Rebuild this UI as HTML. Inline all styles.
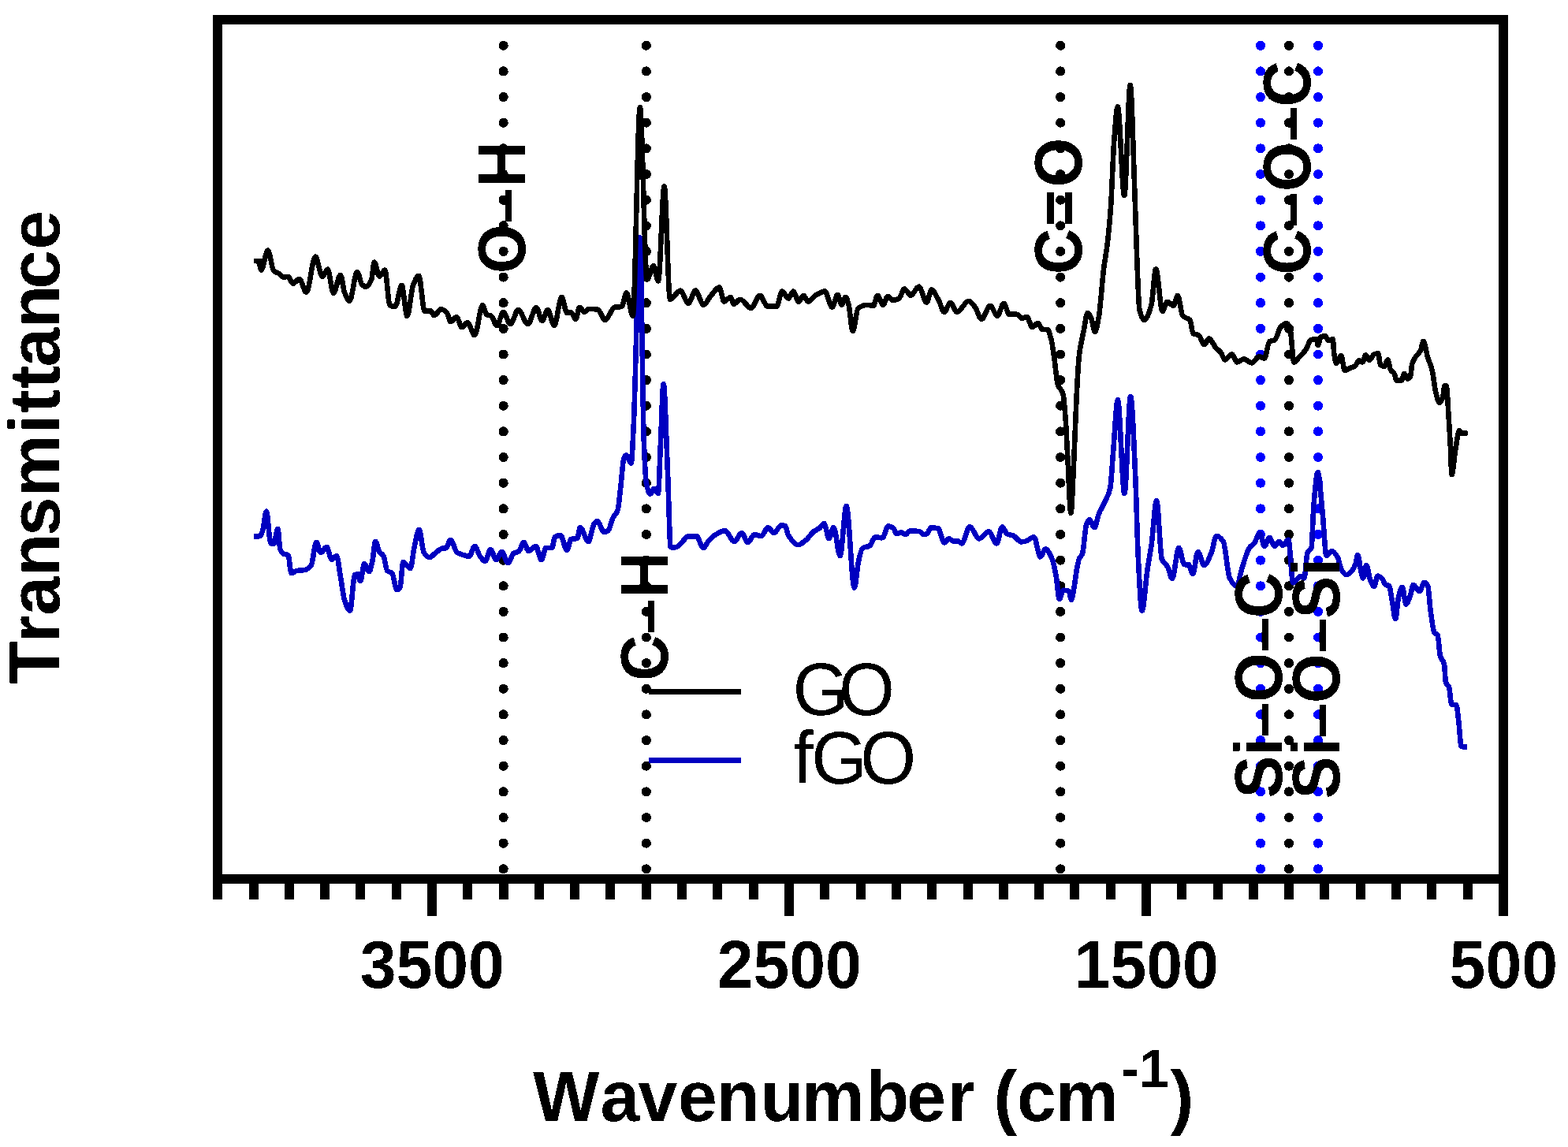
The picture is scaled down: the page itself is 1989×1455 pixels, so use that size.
<!DOCTYPE html>
<html lang="en"><head><meta charset="utf-8"><title>FTIR spectra of GO and fGO</title>
<style>
html,body{margin:0;padding:0;background:#fff;}
body{width:1989px;height:1455px;overflow:hidden;font-family:"Liberation Sans",Arial,sans-serif;}
svg{display:block;}
text{font-family:"Liberation Sans",Arial,sans-serif;fill:#000;}
.b{font-weight:bold;}
</style></head><body>
<svg width="1989" height="1455" viewBox="0 0 1989 1455">
<defs><filter id="bin" x="0" y="0" width="1989" height="1455" filterUnits="userSpaceOnUse" color-interpolation-filters="sRGB"><feComponentTransfer><feFuncA type="discrete" tableValues="0 1"/></feComponentTransfer></filter></defs>
<rect x="0" y="0" width="1989" height="1455" fill="#fff"/>
<g filter="url(#bin)">
<g id="vlines">
<path d="M638.6,57.8 V1102.4" stroke="#000" stroke-width="12.2" stroke-linecap="round" stroke-dasharray="0 32.64" fill="none"/>
<path d="M819.8,57.8 V1102.4" stroke="#000" stroke-width="12.2" stroke-linecap="round" stroke-dasharray="0 32.64" fill="none"/>
<path d="M1345.2,57.8 V1102.4" stroke="#000" stroke-width="12.2" stroke-linecap="round" stroke-dasharray="0 32.64" fill="none"/>
<path d="M1599.0,57.8 V1102.4" stroke="#0000ff" stroke-width="12.2" stroke-linecap="round" stroke-dasharray="0 32.64" fill="none"/>
<path d="M1635.0,57.8 V1102.4" stroke="#000" stroke-width="12.2" stroke-linecap="round" stroke-dasharray="0 32.64" fill="none"/>
<path d="M1672.0,57.8 V1102.4" stroke="#0000ff" stroke-width="12.2" stroke-linecap="round" stroke-dasharray="0 32.64" fill="none"/>
</g>
<path id="fgo" d="M322.0,680.4C324.7,680.2 327.5,680.3 330.2,679.8C331.2,679.6 332.2,675.9 333.2,672.8C334.8,667.9 336.3,648.6 337.9,648.6C339.7,648.6 341.5,688.1 343.3,688.9C344.6,689.5 346.0,689.9 347.3,689.9C349.0,689.9 350.7,670.8 352.4,670.8C353.4,670.8 354.4,694.7 355.4,697.0C357.1,700.8 358.7,702.4 360.4,703.0C362.1,703.6 363.8,703.3 365.5,704.0C366.8,704.5 368.2,727.2 369.5,727.2C371.8,727.2 374.2,724.5 376.5,724.1C379.9,723.5 383.2,723.7 386.6,723.1C389.3,722.6 392.0,720.6 394.7,717.1C396.9,714.2 399.1,687.9 401.3,687.9C403.1,687.9 404.9,701.0 406.7,701.0C409.3,701.0 411.8,693.9 414.4,693.9C416.5,693.9 418.7,710.0 420.8,710.0C422.8,710.0 424.9,705.0 426.9,705.0C428.6,705.0 430.2,721.9 431.9,731.2C433.6,740.7 435.3,756.4 437.0,761.4C439.3,768.2 441.7,774.5 444.0,774.5C446.0,774.5 448.0,730.1 450.0,729.2C451.3,728.6 452.7,728.2 454.0,728.2C455.0,728.2 456.1,737.2 457.1,737.2C458.8,737.2 460.4,715.1 462.1,715.1C464.1,715.1 466.2,725.2 468.2,725.2C469.5,725.2 470.9,718.5 472.2,713.0C473.5,707.5 474.9,686.9 476.2,686.9C477.9,686.9 479.6,697.6 481.3,700.0C483.0,702.4 484.6,702.4 486.3,705.0C488.0,707.6 489.6,722.6 491.3,724.1C493.3,726.0 495.4,725.4 497.4,727.2C499.4,729.0 501.4,748.3 503.4,748.3C504.7,748.3 506.1,747.1 507.4,745.3C508.8,743.4 510.1,713.1 511.5,713.1C514.5,713.1 517.5,721.1 520.5,721.1C522.2,721.1 523.9,701.3 525.6,693.9C527.6,685.1 529.6,671.8 531.6,671.8C533.6,671.8 535.7,698.0 537.7,701.0C540.0,704.4 542.4,707.0 544.7,707.0C547.1,707.0 549.4,703.7 551.8,702.0C554.5,700.1 557.1,696.7 559.8,696.0C561.8,695.5 563.9,695.6 565.9,695.0C567.8,694.4 569.6,684.9 571.5,684.9C574.3,684.9 577.2,699.2 580.0,701.0C582.7,702.7 585.3,703.1 588.0,704.0C590.4,704.8 592.7,706.0 595.1,706.0C597.4,706.0 599.8,692.9 602.1,692.9C604.5,692.9 606.8,702.9 609.2,706.0C611.2,708.6 613.2,712.1 615.2,712.1C617.6,712.1 619.9,697.0 622.3,697.0C624.6,697.0 627.0,710.0 629.3,710.0C631.7,710.0 634.0,700.0 636.4,700.0C639.1,700.0 641.7,714.1 644.4,714.1C646.8,714.1 649.1,703.6 651.5,702.0C653.8,700.4 656.2,700.7 658.5,699.0C660.4,697.6 662.3,687.9 664.2,687.9C666.3,687.9 668.5,699.0 670.6,699.0C673.6,699.0 676.7,692.9 679.7,692.9C682.0,692.9 684.4,710.0 686.7,710.0C688.7,710.0 690.7,694.9 692.7,694.9C695.1,694.9 697.6,695.2 700.0,695.2C701.3,695.2 702.7,681.9 704.0,681.1C706.4,679.8 708.7,679.1 711.1,679.1C713.8,679.1 716.4,698.2 719.1,698.2C720.8,698.2 722.5,684.5 724.2,684.1C726.9,683.4 729.5,683.8 732.2,683.1C733.4,682.8 734.7,669.0 735.9,669.0C739.4,669.0 742.8,687.2 746.3,687.2C748.7,687.2 751.0,668.4 753.4,665.0C754.7,663.1 756.1,661.0 757.4,661.0C760.4,661.0 763.5,675.1 766.5,675.1C768.2,675.1 769.8,674.2 771.5,673.0C773.5,671.6 775.5,661.1 777.5,657.0C779.5,652.8 781.6,652.8 783.6,646.9C784.7,643.6 785.9,630.0 787.0,620.7C788.5,608.2 790.1,582.9 791.6,580.4C792.6,578.7 793.7,577.4 794.7,577.4C796.7,577.4 798.7,587.5 800.7,587.5C801.7,587.5 802.7,559.8 803.7,540.1C806.4,487.0 809.1,301.3 811.8,301.3C813.5,301.3 815.1,518.5 816.8,560.3C817.8,585.4 818.8,607.5 819.8,612.6C821.5,621.3 823.2,626.7 824.9,626.7C826.6,626.7 828.2,619.7 829.9,619.7C831.6,619.7 833.2,625.7 834.9,625.7C835.9,625.7 837.0,581.7 838.0,560.3C839.2,535.4 840.4,487.0 841.6,487.0C843.4,487.0 845.2,558.4 847.0,600.0C848.2,628.5 849.5,694.2 850.7,694.2C852.8,694.2 855.0,694.2 857.1,694.2C859.1,694.2 861.1,691.8 863.1,690.2C866.5,687.6 869.8,680.1 873.2,680.1C876.6,680.1 879.9,680.1 883.3,680.1C886.3,680.1 889.3,695.2 892.3,695.2C894.7,695.2 897.0,687.7 899.4,685.2C902.8,681.7 906.1,678.9 909.5,677.1C912.8,675.3 916.2,673.1 919.5,673.1C923.5,673.1 927.6,687.2 931.6,687.2C934.6,687.2 937.7,676.1 940.7,676.1C943.4,676.1 946.0,688.2 948.7,688.2C951.4,688.2 954.1,678.1 956.8,678.1C959.8,678.1 962.9,680.1 965.9,680.1C968.6,680.1 971.2,669.0 973.9,669.0C976.6,669.0 979.3,676.1 982.0,676.1C985.0,676.1 988.0,666.0 991.0,666.0C992.7,666.0 994.3,666.4 996.0,667.0C997.4,667.5 998.7,676.9 1000.1,679.1C1004.1,685.7 1008.2,691.2 1012.2,691.2C1015.6,691.2 1018.9,687.8 1022.3,685.2C1025.6,682.6 1029.0,676.6 1032.3,674.1C1034.7,672.3 1037.0,671.7 1039.4,670.0C1041.4,668.5 1043.4,664.0 1045.4,664.0C1047.4,664.0 1049.5,683.1 1051.5,683.1C1053.5,683.1 1055.5,669.0 1057.5,669.0C1060.2,669.0 1062.9,705.3 1065.6,705.3C1068.3,705.3 1070.9,641.9 1073.6,641.9C1077.0,641.9 1080.3,745.6 1083.7,745.6C1085.5,745.6 1087.3,719.3 1089.1,711.6C1090.8,704.5 1092.4,696.5 1094.1,695.4C1097.1,693.4 1100.2,694.1 1103.2,692.4C1105.5,691.1 1107.9,681.3 1110.2,681.3C1113.2,681.3 1116.3,682.3 1119.3,682.3C1121.8,682.3 1124.2,667.2 1126.7,667.2C1128.9,667.2 1131.2,668.5 1133.4,670.2C1134.7,671.2 1136.1,677.3 1137.4,677.3C1139.4,677.3 1141.4,675.3 1143.4,675.3C1145.1,675.3 1146.8,678.3 1148.5,678.3C1150.5,678.3 1152.5,673.3 1154.5,673.3C1158.5,673.3 1162.6,673.6 1166.6,674.3C1168.3,674.6 1169.9,678.3 1171.6,678.3C1173.3,678.3 1175.0,677.4 1176.7,676.3C1178.0,675.4 1179.4,669.3 1180.7,669.3C1183.7,669.3 1186.8,669.7 1189.8,670.3C1192.5,670.9 1195.1,688.4 1197.8,688.4C1199.8,688.4 1201.9,683.4 1203.9,683.4C1205.6,683.4 1207.2,686.4 1208.9,686.4C1210.9,686.4 1212.9,686.4 1214.9,686.4C1216.6,686.4 1218.3,689.4 1220.0,689.4C1223.3,689.4 1226.7,668.2 1230.0,668.2C1234.0,668.2 1238.1,683.4 1242.1,683.4C1246.1,683.4 1250.2,674.3 1254.2,674.3C1257.6,674.3 1260.9,689.4 1264.3,689.4C1266.6,689.4 1269.0,668.2 1271.3,668.2C1273.3,668.2 1275.4,676.4 1277.4,677.3C1280.1,678.5 1282.7,678.3 1285.4,679.3C1288.8,680.6 1292.1,687.4 1295.5,687.4C1297.5,687.4 1299.5,686.9 1301.5,686.4C1304.9,685.6 1308.2,681.3 1311.6,681.3C1314.3,681.3 1317.0,706.5 1319.7,706.5C1321.8,706.5 1324.0,696.4 1326.1,696.4C1329.0,696.4 1331.9,702.7 1334.8,709.5C1336.5,713.4 1338.1,722.5 1339.8,731.7C1341.1,739.0 1342.5,759.9 1343.8,759.9C1345.5,759.9 1347.2,748.8 1348.9,748.8C1351.2,748.8 1353.6,749.1 1355.9,749.8C1356.9,750.1 1358.0,760.9 1359.0,760.9C1360.0,760.9 1361.0,753.0 1362.0,747.8C1363.3,740.9 1364.7,728.5 1366.0,721.6C1367.0,716.4 1368.0,710.8 1369.0,708.5C1370.3,705.5 1371.7,705.7 1373.0,702.5C1374.7,698.4 1376.4,669.3 1378.1,665.2C1379.4,662.0 1380.8,659.2 1382.1,659.2C1384.1,659.2 1386.2,669.3 1388.2,669.3C1390.2,669.3 1392.2,656.0 1394.2,651.1C1396.9,644.5 1399.6,641.2 1402.3,635.0C1404.3,630.4 1406.3,628.1 1408.3,618.9C1409.6,612.8 1411.0,586.4 1412.3,570.6C1414.1,548.9 1416.0,507.0 1417.8,507.0C1420.7,507.0 1423.5,626.0 1426.4,626.0C1429.0,626.0 1431.5,503.0 1434.1,503.0C1436.2,503.0 1438.4,563.3 1440.5,610.8C1441.5,633.0 1442.5,679.7 1443.5,700.0C1445.2,734.5 1446.9,775.0 1448.6,775.0C1450.9,775.0 1453.3,737.2 1455.6,721.6C1457.3,710.4 1458.9,703.2 1460.6,691.4C1462.8,676.1 1464.9,635.0 1467.1,635.0C1469.3,635.0 1471.6,704.2 1473.8,709.5C1476.3,715.3 1478.7,714.7 1481.2,719.1C1483.1,722.5 1485.0,734.2 1486.9,734.2C1489.7,734.2 1492.5,694.9 1495.3,694.9C1497.7,694.9 1500.0,716.1 1502.4,716.1C1504.1,716.1 1505.7,716.1 1507.4,716.1C1509.3,716.1 1511.1,728.2 1513.0,728.2C1515.2,728.2 1517.3,700.0 1519.5,700.0C1522.2,700.0 1524.8,717.1 1527.5,717.1C1530.5,717.1 1533.6,708.1 1536.6,701.0C1538.8,695.9 1540.9,679.8 1543.1,679.8C1546.0,679.8 1548.8,682.7 1551.7,686.9C1554.4,690.8 1557.1,728.1 1559.8,733.2C1562.8,738.9 1565.8,743.3 1568.8,743.3C1571.2,743.3 1573.5,726.2 1575.9,719.1C1578.9,710.0 1581.9,699.1 1584.9,694.9C1586.9,692.1 1589.0,691.4 1591.0,688.9C1593.3,686.0 1595.7,676.8 1598.0,676.8C1600.0,676.8 1602.1,692.9 1604.1,692.9C1606.1,692.9 1608.1,681.9 1610.1,681.9C1612.5,681.9 1614.8,692.9 1617.2,692.9C1618.9,692.9 1620.5,686.9 1622.2,686.9C1623.9,686.9 1625.5,691.9 1627.2,691.9C1629.6,691.9 1631.9,684.9 1634.3,684.9C1636.3,684.9 1638.3,739.3 1640.3,739.3C1643.3,739.3 1646.4,731.2 1649.4,731.2C1651.1,731.2 1652.7,733.2 1654.4,733.2C1655.8,733.2 1657.1,704.0 1658.5,701.0C1660.2,697.4 1661.8,699.0 1663.5,694.9C1664.5,692.4 1665.5,652.2 1666.5,640.6C1668.2,620.8 1669.9,599.0 1671.6,599.0C1673.6,599.0 1675.6,631.3 1677.6,650.6C1679.3,666.7 1680.9,705.0 1682.6,705.0C1685.0,705.0 1687.3,699.0 1689.7,699.0C1692.0,699.0 1694.4,703.0 1696.7,707.0C1698.4,709.9 1700.1,720.4 1701.8,723.1C1703.8,726.2 1705.8,729.2 1707.8,729.2C1710.4,729.2 1712.9,726.3 1715.5,723.3C1716.9,721.7 1718.2,718.8 1719.6,715.0C1720.5,712.5 1721.4,703.7 1722.3,703.7C1723.5,703.7 1724.6,716.0 1725.8,721.2C1726.8,725.8 1727.9,733.6 1728.9,733.6C1730.4,733.6 1731.9,717.1 1733.4,717.1C1735.0,717.1 1736.5,732.0 1738.1,735.7C1739.7,739.5 1741.3,743.9 1742.9,743.9C1744.5,743.9 1746.2,730.5 1747.8,730.5C1749.7,730.5 1751.7,732.6 1753.6,734.6C1755.0,736.0 1756.3,741.3 1757.7,741.9C1759.1,742.5 1760.5,742.3 1761.9,742.9C1763.3,743.5 1764.6,755.5 1766.0,762.5C1767.4,769.5 1768.7,785.2 1770.1,785.2C1771.5,785.2 1772.8,761.4 1774.2,756.3C1775.7,750.6 1777.3,744.9 1778.8,744.9C1780.4,744.9 1781.9,766.6 1783.5,766.6C1785.2,766.6 1787.0,760.7 1788.7,756.3C1790.1,752.8 1791.4,741.9 1792.8,741.9C1795.4,741.9 1798.0,750.1 1800.6,750.1C1802.7,750.1 1804.7,738.8 1806.8,738.8C1808.3,738.8 1809.8,740.7 1811.3,743.9C1812.3,746.1 1813.4,765.3 1814.4,772.8C1816.1,785.4 1817.9,800.5 1819.6,802.7C1821.0,804.5 1822.3,803.8 1823.7,805.8C1824.7,807.3 1825.8,827.7 1826.8,831.5C1828.5,837.8 1830.3,835.8 1832.0,842.9C1832.7,845.6 1833.3,863.6 1834.0,865.6C1835.4,869.6 1836.7,868.3 1838.1,871.8C1839.1,874.4 1840.2,893.0 1841.2,893.4C1843.3,894.1 1845.3,893.7 1847.4,894.4C1848.4,894.8 1849.5,908.5 1850.5,917.1C1851.5,925.7 1852.6,946.8 1853.6,947.0C1856.1,947.5 1858.5,947.4 1861.0,947.6" fill="none" stroke="#0000c0" stroke-width="6.6" stroke-linejoin="round" stroke-linecap="butt"/>
<path id="go" d="M322.0,331.0C323.8,331.0 325.7,331.0 327.5,331.0C328.8,331.0 330.2,342.6 331.5,342.6C334.2,342.6 337.0,317.5 339.7,317.5C342.2,317.5 344.8,341.6 347.3,343.7C349.3,345.4 351.4,345.5 353.4,346.7C355.7,348.1 358.1,351.7 360.4,351.7C362.1,351.7 363.8,350.7 365.5,350.7C367.5,350.7 369.5,359.8 371.5,359.8C374.2,359.8 376.9,353.7 379.6,353.7C382.6,353.7 385.6,370.8 388.6,370.8C392.4,370.8 396.3,325.5 400.1,325.5C403.0,325.5 405.9,350.7 408.8,350.7C411.1,350.7 413.5,341.6 415.8,341.6C418.2,341.6 420.5,371.9 422.9,371.9C425.9,371.9 428.9,348.7 431.9,348.7C433.6,348.7 435.3,366.5 437.0,370.8C439.1,376.2 441.3,381.9 443.4,381.9C446.6,381.9 449.9,344.7 453.1,344.7C455.1,344.7 457.1,358.9 459.1,360.8C460.8,362.4 462.4,363.8 464.1,363.8C466.5,363.8 468.8,360.1 471.2,354.7C472.4,352.0 473.6,332.6 474.8,332.6C477.0,332.6 479.1,350.7 481.3,350.7C483.6,350.7 486.0,342.6 488.3,342.6C490.3,342.6 492.4,385.9 494.4,387.0C496.7,388.3 499.1,389.0 501.4,389.0C504.1,389.0 506.8,361.8 509.5,361.8C511.8,361.8 514.2,401.0 516.5,401.0C519.0,401.0 521.5,368.4 524.0,362.0C526.4,355.8 528.8,349.7 531.2,349.7C533.7,349.7 536.2,395.0 538.7,395.0C541.0,395.0 543.4,394.0 545.7,394.0C547.4,394.0 549.1,400.0 550.8,400.0C553.8,400.0 556.8,392.0 559.8,392.0C562.2,392.0 564.5,394.4 566.9,397.0C568.6,398.8 570.2,408.1 571.9,408.1C574.3,408.1 576.6,402.0 579.0,402.0C581.3,402.0 583.7,415.2 586.0,415.2C588.3,415.2 590.7,409.1 593.0,409.1C596.0,409.1 599.1,425.2 602.1,425.2C605.5,425.2 608.8,387.0 612.2,387.0C613.9,387.0 615.5,398.0 617.2,399.0C619.2,400.2 621.3,399.9 623.3,401.0C625.6,402.3 628.0,413.1 630.3,413.1C633.0,413.1 635.7,396.0 638.4,396.0C641.4,396.0 644.4,411.1 647.4,411.1C650.8,411.1 654.1,393.0 657.5,393.0C661.5,393.0 665.6,411.1 669.6,411.1C673.2,411.1 676.7,390.0 680.3,390.0C682.8,390.0 685.2,407.0 687.7,407.0C690.1,407.0 692.4,393.0 694.8,393.0C697.5,393.0 700.3,413.0 703.0,413.0C706.2,413.0 709.3,376.7 712.5,376.7C714.7,376.7 716.9,396.8 719.1,396.8C720.8,396.8 722.5,395.8 724.2,395.8C726.2,395.8 728.2,404.9 730.2,404.9C731.9,404.9 733.5,389.8 735.2,389.8C737.2,389.8 739.3,395.8 741.3,395.8C743.3,395.8 745.3,391.8 747.3,391.8C751.0,391.8 754.7,392.2 758.4,392.8C761.4,393.3 764.5,405.9 767.5,405.9C771.5,405.9 775.6,390.6 779.6,389.8C782.6,389.2 785.6,389.5 788.6,388.8C790.6,388.3 792.7,371.6 794.7,371.6C797.4,371.6 800.0,400.8 802.7,400.8C805.7,400.8 808.8,136.0 811.8,136.0C814.8,136.0 817.8,354.5 820.8,354.5C823.5,354.5 826.2,337.4 828.9,337.4C830.9,337.4 833.0,356.5 835.0,356.5C837.5,356.5 840.1,236.5 842.6,236.5C845.1,236.5 847.5,379.7 850.0,379.7C854.4,379.7 858.7,368.6 863.1,368.6C866.5,368.6 869.8,384.7 873.2,384.7C876.2,384.7 879.3,368.6 882.3,368.6C885.6,368.6 889.0,386.7 892.3,386.7C895.3,386.7 898.4,379.0 901.4,375.7C905.1,371.6 908.8,364.6 912.5,364.6C914.5,364.6 916.5,382.7 918.5,382.7C921.2,382.7 923.9,377.0 926.6,377.0C927.9,377.0 929.3,385.7 930.6,385.7C933.3,385.7 936.0,379.7 938.7,379.7C943.4,379.7 948.1,390.8 952.8,390.8C956.5,390.8 960.1,374.7 963.8,374.7C967.2,374.7 970.5,388.8 973.9,388.8C977.6,388.8 981.3,388.8 985.0,388.8C987.3,388.8 989.7,369.6 992.0,369.6C994.7,369.6 997.4,378.7 1000.1,378.7C1002.1,378.7 1004.1,369.6 1006.1,369.6C1008.5,369.6 1010.8,382.7 1013.2,382.7C1015.2,382.7 1017.2,374.7 1019.2,374.7C1021.2,374.7 1023.3,382.7 1025.3,382.7C1028.3,382.7 1031.3,376.4 1034.3,374.7C1038.3,372.4 1042.4,369.6 1046.4,369.6C1049.4,369.6 1052.5,389.8 1055.5,389.8C1057.8,389.8 1060.2,373.7 1062.5,373.7C1064.2,373.7 1065.9,386.7 1067.6,386.7C1069.3,386.7 1070.9,376.7 1072.6,376.7C1073.9,376.7 1075.2,382.0 1076.5,386.7C1078.2,392.9 1080.0,420.0 1081.7,420.0C1084.0,420.0 1086.4,392.5 1088.7,390.8C1092.5,388.1 1096.2,386.7 1100.0,386.7C1102.7,386.7 1105.3,387.7 1108.0,387.7C1109.7,387.7 1111.4,374.7 1113.1,374.7C1115.4,374.7 1117.8,386.7 1120.1,386.7C1122.1,386.7 1124.2,375.7 1126.2,375.7C1128.2,375.7 1130.2,380.7 1132.2,380.7C1134.9,380.7 1137.6,379.9 1140.3,378.7C1142.6,377.7 1145.0,366.6 1147.3,366.6C1150.0,366.6 1152.7,374.7 1155.4,374.7C1158.8,374.7 1162.1,363.6 1165.5,363.6C1168.8,363.6 1172.2,383.7 1175.5,383.7C1177.5,383.7 1179.6,367.6 1181.6,367.6C1184.6,367.6 1187.6,375.5 1190.6,380.7C1193.0,384.8 1195.3,395.8 1197.7,395.8C1200.4,395.8 1203.0,383.7 1205.7,383.7C1208.4,383.7 1211.1,395.8 1213.8,395.8C1218.8,395.8 1223.9,381.7 1228.9,381.7C1231.6,381.7 1234.3,386.3 1237.0,389.8C1239.7,393.3 1242.3,404.9 1245.0,404.9C1248.7,404.9 1252.4,387.8 1256.1,387.8C1259.1,387.8 1262.2,400.8 1265.2,400.8C1267.9,400.8 1270.5,384.7 1273.2,384.7C1275.6,384.7 1277.9,398.8 1280.3,398.8C1283.6,398.8 1287.0,398.8 1290.3,398.8C1292.3,398.8 1294.4,403.9 1296.4,403.9C1298.4,403.9 1300.4,401.9 1302.4,401.9C1304.8,401.9 1307.1,414.9 1309.5,414.9C1311.8,414.9 1314.2,409.9 1316.5,409.9C1318.5,409.9 1320.6,418.0 1322.6,418.0C1324.6,418.0 1326.6,418.0 1328.6,418.0C1330.3,418.0 1331.9,424.8 1333.6,431.0C1335.0,436.1 1336.3,447.7 1337.7,457.2C1339.0,466.4 1340.4,483.3 1341.7,487.5C1344.0,494.6 1346.2,492.3 1348.5,500.0C1349.5,503.5 1350.6,517.6 1351.6,531.0C1352.5,542.3 1353.3,562.6 1354.2,578.0C1355.6,602.8 1357.0,650.8 1358.4,650.8C1359.6,650.8 1360.8,613.8 1362.0,590.0C1363.2,565.5 1364.5,524.2 1365.7,501.0C1366.8,480.9 1367.8,460.0 1368.9,451.0C1370.8,435.2 1372.6,429.8 1374.5,420.5C1376.2,412.0 1377.9,396.8 1379.6,396.8C1381.1,396.8 1382.5,400.0 1384.0,402.9C1385.7,406.2 1387.3,421.0 1389.0,421.0C1390.7,421.0 1392.3,410.2 1394.0,400.8C1396.0,389.3 1398.1,356.5 1400.1,340.4C1401.6,328.8 1403.0,323.1 1404.5,311.0C1406.0,298.4 1407.6,283.0 1409.1,261.3C1410.4,242.4 1411.8,198.3 1413.1,180.7C1414.7,160.1 1416.2,135.4 1417.8,135.4C1420.6,135.4 1423.4,248.2 1426.2,248.2C1428.7,248.2 1431.2,107.8 1433.7,107.8C1435.6,107.8 1437.4,191.3 1439.3,241.1C1440.3,267.8 1441.3,305.9 1442.3,330.0C1443.3,354.9 1444.4,388.4 1445.4,392.8C1447.4,401.5 1449.5,405.9 1451.5,405.9C1454.5,405.9 1457.5,397.3 1460.5,386.7C1462.4,380.0 1464.3,341.2 1466.2,341.2C1469.0,341.2 1471.8,394.8 1474.6,394.8C1476.6,394.8 1478.7,382.7 1480.7,382.7C1483.4,382.7 1486.0,387.8 1488.7,387.8C1490.4,387.8 1492.1,374.7 1493.8,374.7C1496.0,374.7 1498.3,398.7 1500.5,401.0C1503.5,404.0 1506.5,402.7 1509.5,406.0C1510.8,407.5 1512.2,422.4 1513.5,423.2C1515.8,424.6 1518.2,424.1 1520.5,425.2C1522.9,426.4 1525.2,437.3 1527.6,437.3C1529.6,437.3 1531.6,429.2 1533.6,429.2C1536.3,429.2 1539.0,437.2 1541.7,440.3C1544.0,443.0 1546.4,444.3 1548.7,447.3C1550.4,449.5 1552.1,456.4 1553.8,456.4C1556.8,456.4 1559.8,449.3 1562.8,449.3C1564.8,449.3 1566.9,459.4 1568.9,459.4C1571.9,459.4 1574.9,455.4 1577.9,455.4C1581.3,455.4 1584.6,460.4 1588.0,460.4C1591.0,460.4 1594.1,452.4 1597.1,452.4C1599.4,452.4 1601.8,454.4 1604.1,454.4C1606.1,454.4 1608.2,434.3 1610.2,433.2C1612.5,431.9 1614.9,432.4 1617.2,431.2C1619.6,430.0 1621.9,417.4 1624.3,415.1C1627.0,412.5 1629.6,410.1 1632.3,410.1C1633.7,410.1 1635.1,413.2 1636.5,417.0C1638.1,421.4 1639.8,459.4 1641.4,459.4C1643.6,459.4 1645.8,455.3 1648.0,453.0C1650.9,450.0 1653.7,447.6 1656.6,443.5C1658.6,440.6 1660.7,432.2 1662.7,431.4C1665.2,430.5 1667.7,429.9 1670.2,429.9C1670.7,429.9 1671.3,438.2 1671.8,438.2C1673.0,438.2 1674.3,428.3 1675.5,427.6C1677.3,426.6 1679.0,426.1 1680.8,426.1C1682.3,426.1 1683.9,432.2 1685.4,432.2C1687.2,432.2 1688.9,429.9 1690.7,429.9C1691.2,429.9 1691.7,444.7 1692.2,448.0C1693.2,454.7 1694.2,460.9 1695.2,460.9C1697.2,460.9 1699.2,451.1 1701.2,451.1C1702.7,451.1 1704.3,470.0 1705.8,470.0C1708.1,470.0 1710.3,467.8 1712.6,466.9C1714.6,466.1 1716.6,465.9 1718.6,464.7C1720.4,463.7 1722.1,457.1 1723.9,457.1C1725.4,457.1 1727.0,459.4 1728.5,459.4C1729.7,459.4 1731.0,450.3 1732.2,450.3C1733.7,450.3 1735.3,457.1 1736.8,457.1C1738.8,457.1 1740.8,450.6 1742.8,449.6C1744.6,448.8 1746.3,448.0 1748.1,448.0C1749.1,448.0 1750.1,462.6 1751.1,463.2C1752.9,464.2 1754.6,464.7 1756.4,464.7C1757.7,464.7 1758.9,456.4 1760.2,456.4C1761.5,456.4 1762.7,467.2 1764.0,469.2C1765.5,471.6 1767.0,471.5 1768.5,473.8C1769.5,475.4 1770.6,482.8 1771.6,482.8C1773.6,482.8 1775.6,482.8 1777.6,482.8C1778.9,482.8 1780.1,473.8 1781.4,473.8C1782.7,473.8 1783.9,480.6 1785.2,480.6C1786.5,480.6 1787.7,479.7 1789.0,478.0C1789.7,477.0 1790.5,464.2 1791.2,461.7C1792.7,456.6 1794.3,455.0 1795.8,452.6C1797.8,449.5 1799.8,448.7 1801.8,445.0C1803.1,442.6 1804.3,432.9 1805.6,432.9C1807.4,432.9 1809.1,446.7 1810.9,452.6C1812.9,459.3 1814.9,462.3 1816.9,470.7C1818.2,476.0 1819.4,489.6 1820.7,494.9C1822.5,502.3 1824.2,510.8 1826.0,510.8C1827.3,510.8 1828.5,508.1 1829.8,505.0C1830.8,502.6 1831.8,488.9 1832.8,488.9C1833.6,488.9 1834.3,489.4 1835.1,490.4C1835.8,491.3 1836.6,512.1 1837.3,523.7C1838.1,535.8 1838.8,547.6 1839.6,561.5C1840.3,573.6 1840.9,602.0 1841.6,602.0C1843.1,602.0 1844.5,580.5 1846.0,572.0C1847.7,562.0 1849.5,546.0 1851.2,546.0C1852.5,546.0 1853.7,550.0 1855.0,550.0C1857.0,550.0 1859.0,550.0 1861.0,550.0" fill="none" stroke="#000" stroke-width="6.6" stroke-linejoin="round" stroke-linecap="butt"/>
<path d="M322,331H333.5M1851,549.5H1861.5" stroke="#000" stroke-width="6" fill="none"/>
<path d="M322,680.4H331" stroke="#0000c0" stroke-width="6" fill="none"/>
<g id="axes" shape-rendering="crispEdges">
<rect x="276" y="25" width="1631" height="1090" fill="none" stroke="#000" stroke-width="12"/>
<rect x="270" y="1115" width="12" height="26" fill="#000"/>
<rect x="316" y="1115" width="12" height="26" fill="#000"/>
<rect x="361" y="1115" width="12" height="26" fill="#000"/>
<rect x="406" y="1115" width="12" height="26" fill="#000"/>
<rect x="451" y="1115" width="12" height="26" fill="#000"/>
<rect x="497" y="1115" width="12" height="26" fill="#000"/>
<rect x="542" y="1115" width="12" height="47" fill="#000"/>
<rect x="587" y="1115" width="12" height="26" fill="#000"/>
<rect x="633" y="1115" width="12" height="26" fill="#000"/>
<rect x="678" y="1115" width="12" height="26" fill="#000"/>
<rect x="723" y="1115" width="12" height="26" fill="#000"/>
<rect x="768" y="1115" width="12" height="26" fill="#000"/>
<rect x="814" y="1115" width="12" height="26" fill="#000"/>
<rect x="859" y="1115" width="12" height="26" fill="#000"/>
<rect x="904" y="1115" width="12" height="26" fill="#000"/>
<rect x="950" y="1115" width="12" height="26" fill="#000"/>
<rect x="995" y="1115" width="12" height="47" fill="#000"/>
<rect x="1040" y="1115" width="12" height="26" fill="#000"/>
<rect x="1086" y="1115" width="12" height="26" fill="#000"/>
<rect x="1131" y="1115" width="12" height="26" fill="#000"/>
<rect x="1176" y="1115" width="12" height="26" fill="#000"/>
<rect x="1222" y="1115" width="12" height="26" fill="#000"/>
<rect x="1267" y="1115" width="12" height="26" fill="#000"/>
<rect x="1312" y="1115" width="12" height="26" fill="#000"/>
<rect x="1357" y="1115" width="12" height="26" fill="#000"/>
<rect x="1403" y="1115" width="12" height="26" fill="#000"/>
<rect x="1448" y="1115" width="12" height="47" fill="#000"/>
<rect x="1493" y="1115" width="12" height="26" fill="#000"/>
<rect x="1539" y="1115" width="12" height="26" fill="#000"/>
<rect x="1584" y="1115" width="12" height="26" fill="#000"/>
<rect x="1629" y="1115" width="12" height="26" fill="#000"/>
<rect x="1674" y="1115" width="12" height="26" fill="#000"/>
<rect x="1720" y="1115" width="12" height="26" fill="#000"/>
<rect x="1765" y="1115" width="12" height="26" fill="#000"/>
<rect x="1810" y="1115" width="12" height="26" fill="#000"/>
<rect x="1856" y="1115" width="12" height="26" fill="#000"/>
<rect x="1901" y="1115" width="12" height="47" fill="#000"/>
</g>
<g id="ticklabels" class="b" text-anchor="middle">
<text transform="translate(548.3,1253.1) scale(0.9886,1.015)" font-size="83.33">3500</text>
<text transform="translate(1001.3,1253.1) scale(0.9886,1.015)" font-size="83.33">2500</text>
<text transform="translate(1454.3,1253.1) scale(0.9886,1.015)" font-size="83.33">1500</text>
<text transform="translate(1907.3,1253.1) scale(0.9886,1.015)" font-size="83.33">500</text>
</g>
<text id="xlabel" class="b" font-size="91.67" transform="translate(676.5,1421.7) scale(0.9756,0.995)" x="-0.51 87.09 136.34 188.02 238.29 295.40 349.13 432.47 485.48 538.71 572.12 598.62 628.83 679.09" y="0">Wavenumber (cm<tspan font-size="68.75" x="764.15 787.93" dy="-43.2">-1</tspan><tspan x="828.31" dy="43.2">)</tspan></text>
<text id="ylabel" class="b" font-size="91.67" transform="translate(75.2,867.6) rotate(-90) scale(0.97,0.985)" x="0.00 54.01 89.68 140.65 193.55 244.53 327.06 354.57 386.14 414.59 465.58 516.41 568.41" y="0">Transmittance</text>
<g id="annotations">
<text id="l-oh" class="b" font-size="83.33" transform="translate(666.26,345.70) rotate(-90) scale(0.965,1.03)" x="-1.33 64.67 112.24" y="0 1.7 0">O–H</text>
<text id="l-ch" class="b" font-size="83.33" transform="translate(847.16,862.00) rotate(-90) scale(0.965,1.03)" x="-1.90 59.90 107.24" y="0 1.7 0">C–H</text>
<text id="l-co" class="b" font-size="83.33" transform="translate(1372.16,346.00) rotate(-90) scale(0.965,1.03)" x="-2.11 60.26 112.35" y="0 0 0">C=O</text>
<text id="l-coc" class="b" font-size="83.33" transform="translate(1662.16,346.40) rotate(-90) scale(0.965,1.03)" x="-2.11 60.01 107.06 173.12 218.51" y="0 1.7 0 1.7 0">C–O–C</text>
<text id="l-sioc" class="b" font-size="83.33" transform="translate(1625.86,1011.40) rotate(-90) scale(0.965,1.03)" x="-0.88 55.10 78.76 125.04 190.68 235.61" y="0 0 1.7 0 1.7 0">Si–O–C</text>
<text id="l-siosi" class="b" font-size="83.33" transform="translate(1699.06,1012.70) rotate(-90) scale(0.965,1.03)" x="-0.63 56.29 79.23 125.15 191.04 236.58 292.40" y="0 0 1.7 0 1.7 0 0">Si–O–Si</text>
</g>
<g id="legend">
<rect x="823" y="874" width="117" height="7" fill="#000" shape-rendering="crispEdges"/>
<rect x="823" y="961" width="117" height="7" fill="#0000c0" shape-rendering="crispEdges"/>
<text id="lg-go" font-size="91.67" transform="translate(1007.90,907.07) scale(0.995,1.0323)" x="-2.32 56.28" y="0">GO</text>
<text id="lg-fgo" font-size="91.67" transform="translate(1004.10,993.87) scale(0.995,1.0308)" x="2.08 25.37 87.68" y="0">fGO</text>
</g>
</g>
</svg>
</body></html>
